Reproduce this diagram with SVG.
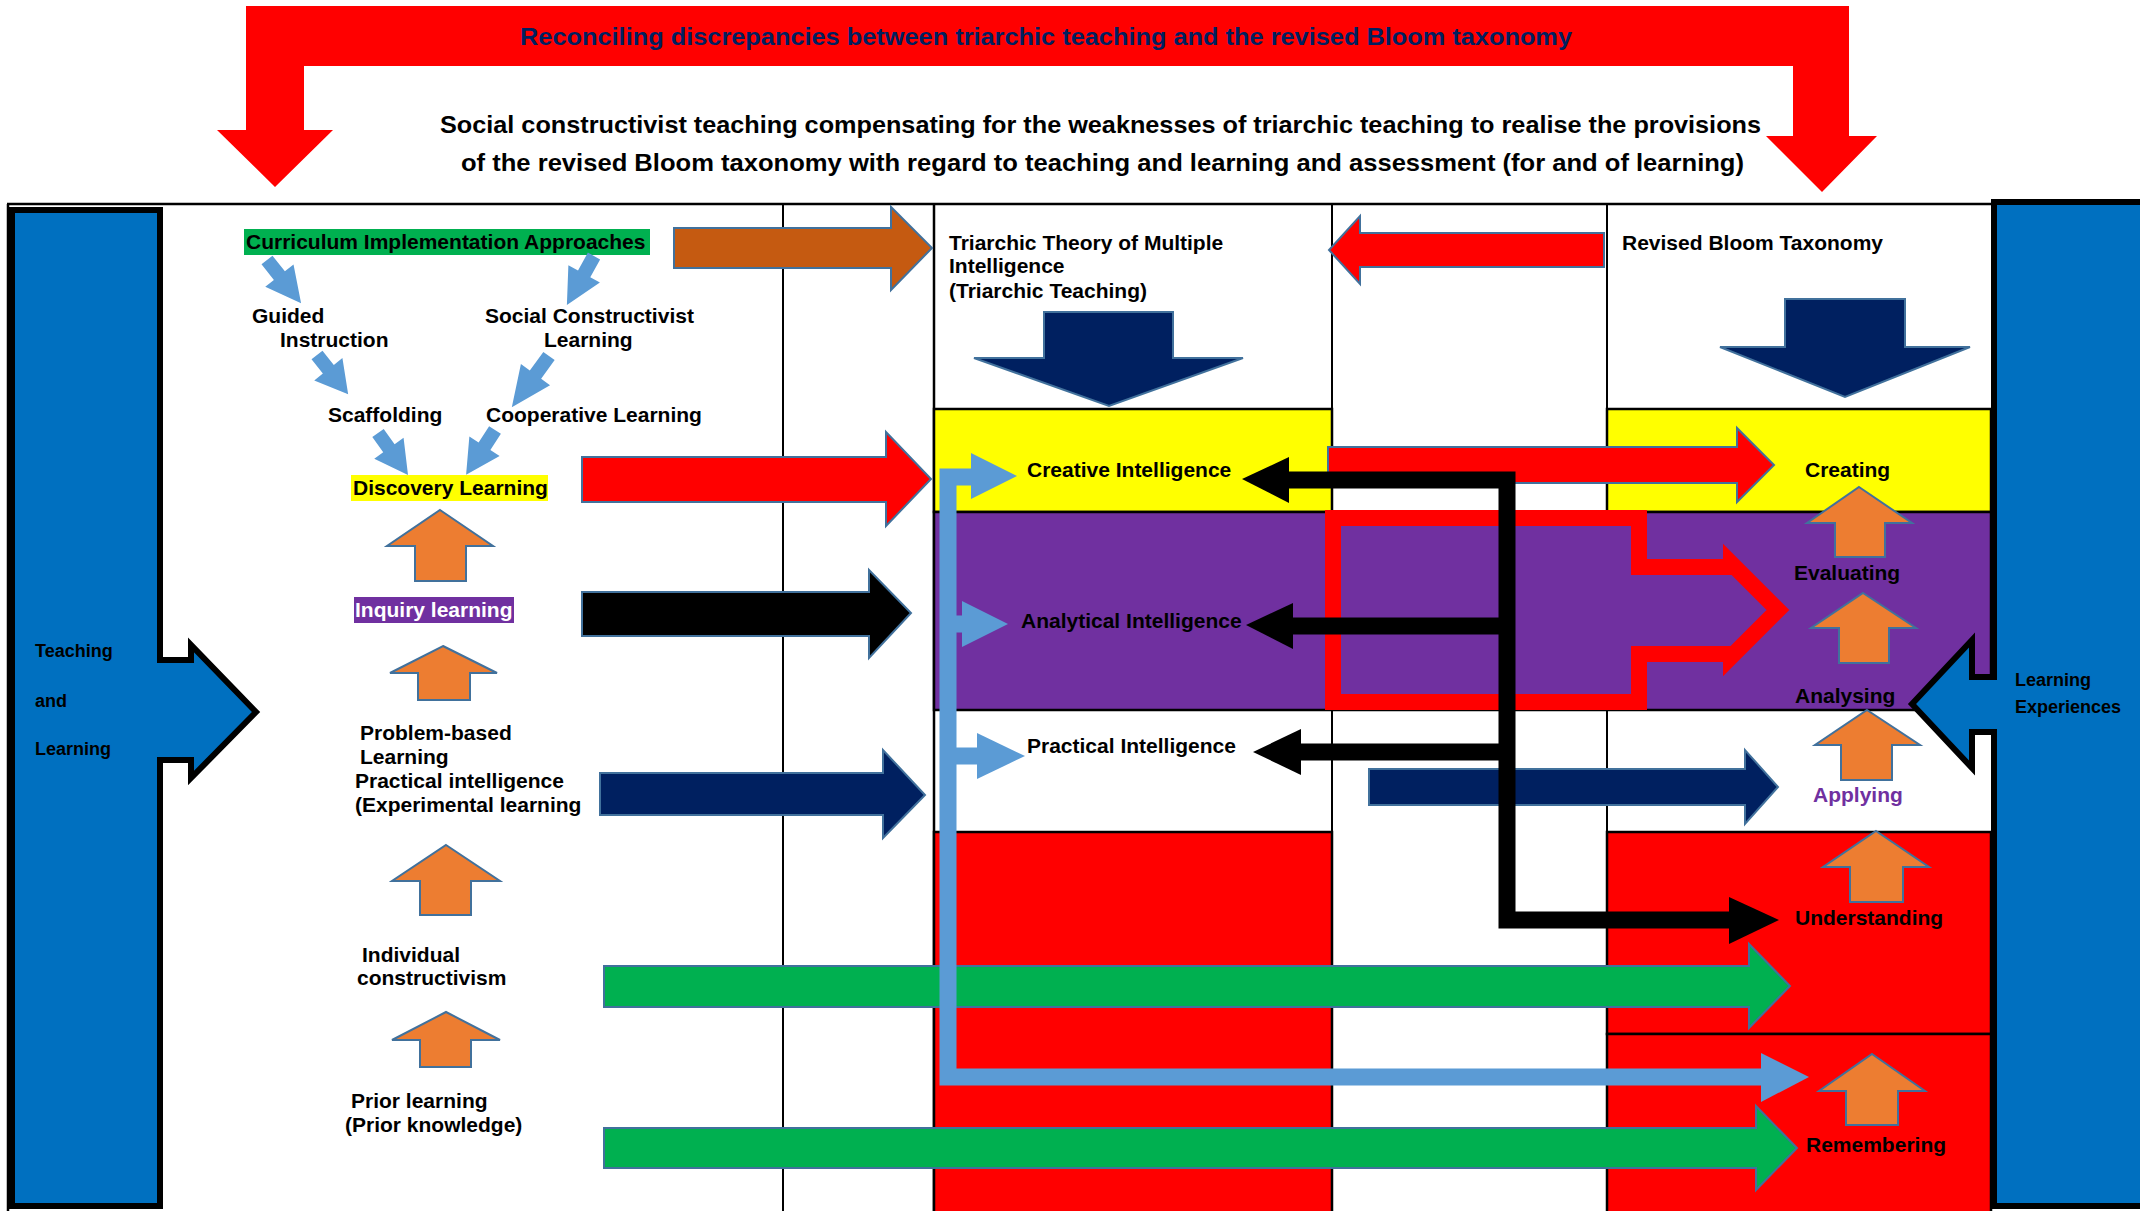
<svg xmlns="http://www.w3.org/2000/svg" xmlns:xlink="http://www.w3.org/1999/xlink" width="2140" height="1211" viewBox="0 0 2140 1211">
  <style>
    .lbl { font-family: "Liberation Sans", Arial, sans-serif; font-weight: bold; font-size: 21px; fill: #000; }
    .small { font-size: 18px; }
    .head { font-family: "Liberation Sans", Arial, sans-serif; font-weight: bold; font-size: 24px; }
    .grid { stroke: #000; stroke-width: 2.5; fill: none; }
    .edge { stroke: #41719C; stroke-width: 2; stroke-linejoin: miter; }
    .orange { fill: #ED7D31; stroke: #41719C; stroke-width: 2; }
    .navy { fill: #002060; }
    .lb { fill: #5B9BD5; }
    .band { stroke: #000; stroke-width: 2.5; }
  </style>
  <defs>
    <!-- small light-blue block arrow, pointing along +x, length 55 -->
    <path id="sa" d="M0,-7 H20 V-18 L55,0 L20,18 V7 H0 Z" fill="#5B9BD5"/>
  </defs>

  <rect width="2140" height="1211" fill="#fff"/>

  <!-- top bent arrow with title -->
  <g id="reconcile">
    <polygon fill="#FF0000" points="246,6 1849,6 1849,136 1877,136 1822,192 1766,136 1793,136 1793,66 304,66 304,130 333,130 275,187 217,130 246,130"/>
    <text class="head" x="520" y="45" fill="#002060" textLength="1052" lengthAdjust="spacingAndGlyphs">Reconciling discrepancies between triarchic teaching and the revised Bloom taxonomy</text>
  </g>
  <g id="subtitle">
    <text class="head" x="440" y="133" fill="#000" textLength="1321" lengthAdjust="spacingAndGlyphs">Social constructivist teaching compensating for the weaknesses of triarchic teaching to realise the provisions</text>
    <text class="head" x="461" y="171" fill="#000" textLength="1283" lengthAdjust="spacingAndGlyphs">of the revised Bloom taxonomy with regard to teaching and learning and assessment (for and of learning)</text>
  </g>

  <!-- table frame and columns -->
  <g id="table">
    <line class="grid" x1="7" y1="204" x2="1991" y2="204"/>
    <line class="grid" x1="8" y1="204" x2="8" y2="1211"/>
    <line x1="783" y1="204" x2="783" y2="1211" stroke="#000" stroke-width="2"/>
    <line class="grid" x1="934" y1="204" x2="934" y2="1211"/>
    <line x1="1332" y1="204" x2="1332" y2="1211" stroke="#000" stroke-width="2"/>
    <line x1="1607" y1="204" x2="1607" y2="1211" stroke="#000" stroke-width="2"/>
    <!-- rows -->
    <rect class="band" x="934" y="409" width="398" height="103" fill="#FFFF00"/>
    <rect class="band" x="1607" y="409" width="384" height="103" fill="#FFFF00"/>
    <rect class="band" x="934" y="512" width="1057" height="198" fill="#7030A0"/>
    <rect class="band" x="934" y="832" width="398" height="382" fill="#FF0000"/>
    <rect class="band" x="1607" y="832" width="384" height="202" fill="#FF0000"/>
    <rect class="band" x="1607" y="1034" width="384" height="180" fill="#FF0000"/>
  </g>

  <!-- side bars -->
  <g id="teaching-learning">
    <polygon fill="#0070C0" stroke="#000" stroke-width="6" points="12,210 160,210 160,660 191,660 191,645 256,712 191,778 191,760 160,760 160,1206 12,1206"/>
    <text class="lbl small" x="35" y="657">Teaching</text>
    <text class="lbl small" x="35" y="707">and</text>
    <text class="lbl small" x="35" y="755">Learning</text>
  </g>
  <g id="learning-experiences">
    <polygon fill="#0070C0" stroke="#000" stroke-width="6" points="1994,202 2150,202 2150,1206 1994,1206 1994,732 1972,732 1972,768 1912,704 1972,640 1972,677 1994,677"/>
    <text class="lbl small" x="2015" y="686">Learning</text>
    <text class="lbl small" x="2015" y="713">Experiences</text>
  </g>

  <!-- left column: curriculum approaches -->
  <g id="curriculum">
    <rect x="244" y="229" width="406" height="26" fill="#00B050"/>
    <text class="lbl" x="246" y="249">Curriculum Implementation Approaches</text>
  </g>
  <g id="guided">
    <text class="lbl" x="252" y="323">Guided</text>
    <text class="lbl" x="280" y="347">Instruction</text>
  </g>
  <g id="social">
    <text class="lbl" x="485" y="323">Social Constructivist</text>
    <text class="lbl" x="544" y="347">Learning</text>
  </g>
  <g id="scaffolding"><text class="lbl" x="328" y="422">Scaffolding</text></g>
  <g id="cooperative"><text class="lbl" x="486" y="422">Cooperative Learning</text></g>
  <g id="discovery">
    <rect x="351" y="475" width="197" height="26" fill="#FFFF00"/>
    <text class="lbl" x="353" y="495">Discovery Learning</text>
  </g>
  <g id="inquiry">
    <rect x="354" y="597" width="160" height="26" fill="#7030A0"/>
    <text class="lbl" x="355" y="617" fill="#fff" style="fill:#fff">Inquiry learning</text>
  </g>
  <g id="problem-based">
    <text class="lbl" x="360" y="740">Problem-based</text>
    <text class="lbl" x="360" y="764">Learning</text>
    <text class="lbl" x="355" y="788">Practical intelligence</text>
    <text class="lbl" x="355" y="812">(Experimental learning</text>
  </g>
  <g id="individual">
    <text class="lbl" x="362" y="962">Individual</text>
    <text class="lbl" x="357" y="985">constructivism</text>
  </g>
  <g id="prior">
    <text class="lbl" x="351" y="1108">Prior learning</text>
    <text class="lbl" x="345" y="1132">(Prior knowledge)</text>
  </g>

  <!-- triarchic column -->
  <g id="triarchic">
    <text class="lbl" x="949" y="250">Triarchic Theory of Multiple</text>
    <text class="lbl" x="949" y="273">Intelligence</text>
    <text class="lbl" x="949" y="298">(Triarchic Teaching)</text>
    <polygon class="navy edge" points="1044,312 1173,312 1173,358 1243,358 1109,406 974,358 1044,358"/>
  </g>
  <!-- bloom column -->
  <g id="bloom">
    <text class="lbl" x="1622" y="250">Revised Bloom Taxonomy</text>
    <polygon class="navy edge" points="1785,299 1905,299 1905,347 1970,347 1845,397 1720,347 1785,347"/>
  </g>

  <!-- connectors -->
  <g id="connectors">
    <!-- left column small arrows -->
    <use href="#sa" transform="translate(267,260) rotate(51.7)"/>
    <use href="#sa" transform="translate(594,256) rotate(118.9) scale(1.02,1)"/>
    <use href="#sa" transform="translate(317,355) rotate(51.5) scale(0.91,1)"/>
    <use href="#sa" transform="translate(549,356) rotate(126) scale(1.15,1)"/>
    <use href="#sa" transform="translate(378,433) rotate(54.5) scale(0.94,1)"/>
    <use href="#sa" transform="translate(495,430) rotate(122.8) scale(0.97,1)"/>

    <!-- orange progression arrows, left column -->
    <polygon class="orange" points="440,510 493,546 466,546 466,581 415,581 415,546 387,546"/>
    <polygon class="orange" points="443,646 497,673 470,673 470,700 418,700 418,673 390,673"/>
    <polygon class="orange" points="446,845 500,881 471,881 471,915 420,915 420,881 392,881"/>
    <polygon class="orange" points="446,1012 500,1040 471,1040 471,1067 420,1067 420,1040 392,1040"/>

    <!-- header arrows -->
    <polygon class="edge" fill="#C55A11" points="674,228 891,228 891,207 932,248 891,290 891,268 674,268"/>
    <polygon class="edge" fill="#FF0000" points="1604,233 1360,233 1360,216 1329,250 1360,284 1360,267 1604,267"/>

    <!-- approach to intelligence arrows -->
    <polygon class="edge" fill="#FF0000" points="582,457 886,457 886,432 931,479 886,526 886,502 582,502"/>
    <polygon class="edge" fill="#000" points="582,592 869,592 869,570 911,613 869,658 869,636 582,636"/>
    <polygon class="edge navy" points="600,773 883,773 883,750 925,795 883,838 883,815 600,815"/>

    <!-- long green arrows -->
    <polygon class="edge" fill="#00B050" points="604,966 1749,966 1749,944 1790,986 1749,1028 1749,1007 604,1007"/>
    <polygon class="edge" fill="#00B050" points="604,1128 1756,1128 1756,1106 1797,1148 1756,1190 1756,1168 604,1168"/>

    <!-- creative to creating -->
    <polygon class="edge" fill="#FF0000" points="1328,447 1737,447 1737,428 1774,465 1737,502 1737,483 1328,483"/>
    <!-- analytical callout -->
    <polygon fill="none" stroke="#FF0000" stroke-width="16" stroke-linejoin="miter" points="1333,518 1639,518 1639,567 1731,567 1731,563 1778,610 1731,657 1731,654 1639,654 1639,702 1333,702"/>
    <!-- practical to applying -->
    <polygon class="edge navy" points="1369,769 1745,769 1745,750 1778,787 1745,824 1745,805 1369,805"/>

    <!-- light blue distribution line -->
    <path d="M975,477 H948 V1077 H1765 M948,624 H966 M948,756 H980" fill="none" stroke="#5B9BD5" stroke-width="17" stroke-linejoin="miter"/>
    <polygon class="lb" points="971,453 1017,476 971,499"/>
    <polygon class="lb" points="962,601 1008,624 962,647"/>
    <polygon class="lb" points="977,733 1025,756 977,779"/>
    <polygon class="lb" points="1761,1053 1809,1077 1761,1102"/>

    <!-- black feedback line -->
    <path d="M1285,480 H1507 V920 H1732 M1507,626 H1290 M1507,752 H1298" fill="none" stroke="#000" stroke-width="17" stroke-linejoin="miter"/>
    <polygon points="1289,457 1242,479 1289,503"/>
    <polygon points="1293,603 1246,625 1293,649"/>
    <polygon points="1301,729 1253,752 1301,775"/>
    <polygon points="1729,897 1779,920 1729,944"/>

    <!-- bloom progression arrows -->
    <polygon class="orange" points="1859,487 1912,523 1885,523 1885,557 1835,557 1835,523 1807,523"/>
    <polygon class="orange" points="1863,593 1916,628 1889,628 1889,663 1839,663 1839,628 1811,628"/>
    <polygon class="orange" points="1867,710 1920,745 1892,745 1892,780 1841,780 1841,745 1815,745"/>
    <polygon class="orange" points="1876,831 1929,867 1903,867 1903,902 1850,902 1850,867 1823,867"/>
    <polygon class="orange" points="1872,1054 1925,1091 1898,1091 1898,1125 1846,1125 1846,1091 1819,1091"/>
  </g>

  <!-- intelligences -->
  <g id="creative-intelligence"><text class="lbl" x="1027" y="477">Creative Intelligence</text></g>
  <g id="analytical-intelligence"><text class="lbl" x="1021" y="628">Analytical Intelligence</text></g>
  <g id="practical-intelligence"><text class="lbl" x="1027" y="753">Practical Intelligence</text></g>

  <!-- bloom levels -->
  <g id="creating"><text class="lbl" x="1805" y="477">Creating</text></g>
  <g id="evaluating"><text class="lbl" x="1794" y="580">Evaluating</text></g>
  <g id="analysing"><text class="lbl" x="1795" y="703">Analysing</text></g>
  <g id="applying"><text class="lbl" x="1813" y="802" style="fill:#7030A0">Applying</text></g>
  <g id="understanding"><text class="lbl" x="1795" y="925">Understanding</text></g>
  <g id="remembering"><text class="lbl" x="1806" y="1152">Remembering</text></g>
</svg>
